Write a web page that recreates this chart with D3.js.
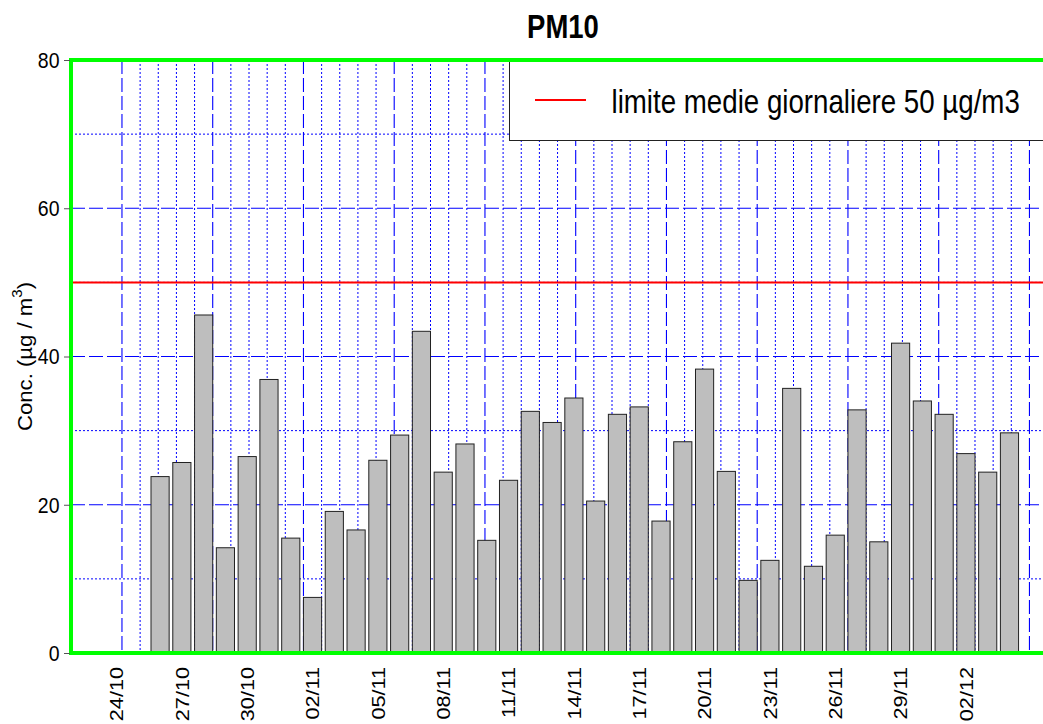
<!DOCTYPE html>
<html><head><meta charset="utf-8">
<script src="https://cdn.jsdelivr.net/npm/d3@7"></script>
<style>
body{margin:0;background:#fff;}
text{font-family:"Liberation Sans",Arial,Helvetica,sans-serif;fill:#000;}
</style>
</head><body>
<svg id="c" width="1043" height="724"></svg>
<script>
// ---- data ----
const dates = ["24/10","25/10","26/10","27/10","28/10","29/10","30/10","31/10",
  "01/11","02/11","03/11","04/11","05/11","06/11","07/11","08/11","09/11","10/11",
  "11/11","12/11","13/11","14/11","15/11","16/11","17/11","18/11","19/11","20/11",
  "21/11","22/11","23/11","24/11","25/11","26/11","27/11","28/11","29/11","30/11",
  "01/12","02/12","03/12","04/12"];
const values = [null,null,23.8,25.7,45.6,14.2,26.5,36.9,
  15.5,7.5,19.1,16.6,26.0,29.4,43.4,24.4,28.2,15.2,
  23.3,32.6,31.1,34.4,20.5,32.2,33.2,17.8,28.5,38.3,
  24.5,9.8,12.5,35.7,11.7,15.9,32.8,15.0,41.8,34.0,
  32.2,26.9,24.4,29.7];
const tickLabels = ["24/10","27/10","30/10","02/11","05/11","08/11","11/11",
  "14/11","17/11","20/11","23/11","26/11","29/11","02/12"];
const yTicks = [0,20,40,60,80];
const yGridMajor = [20,40,60];
const yGridMinor = [10,30,50,70];
const limitValue = 50;
const legendLabel = "limite medie giornaliere 50 µg/m3";
const chartTitle = "PM10";

// ---- layout ----
const svg = d3.select("#c");
const L = 71, R = 1055, T = 60, B = 653;
const barSpace = 0.2, barW = 1;
const n = dates.length;
const xMin = barSpace, xMax = barSpace + (barW + barSpace) * (n - 1) + barW;
const ext = (xMax - xMin) * 0.04;
const x = d3.scaleLinear().domain([xMin - ext, xMax + ext]).range([L, R]);
const y = d3.scaleLinear().domain([0, 80]).range([B, T]);
const pos = i => barSpace + i * (barW + barSpace);

svg.append("clipPath").attr("id","pc")
  .append("rect").attr("x",L).attr("y",T).attr("width",R-L).attr("height",B-T);

const plot = svg.append("g").attr("clip-path","url(#pc)");

// grid
const gxMajor = d3.range(1, 52, 5);
const gxMinor = d3.range(1, 52, 1).filter(v => (v - 1) % 5 !== 0);
plot.selectAll(".gxm").data(gxMinor).join("line")
  .attr("x1", d => x(d)).attr("x2", d => x(d)).attr("y1", T).attr("y2", B)
  .attr("stroke","#0000ff").attr("stroke-width",1).attr("stroke-dasharray","2,2");
plot.selectAll(".gyn").data(yGridMinor).join("line")
  .attr("x1", L).attr("x2", R).attr("y1", d => y(d)).attr("y2", d => y(d))
  .attr("stroke","#0000ff").attr("stroke-width",1).attr("stroke-dasharray","2,2");
plot.selectAll(".gxM").data(gxMajor).join("line")
  .attr("x1", d => x(d)).attr("x2", d => x(d)).attr("y1", T).attr("y2", B)
  .attr("stroke","#0000ff").attr("stroke-width",1.1).attr("stroke-dasharray","14,4");
plot.selectAll(".gyM").data(yGridMajor).join("line")
  .attr("x1", L).attr("x2", R).attr("y1", d => y(d)).attr("y2", d => y(d))
  .attr("stroke","#0000ff").attr("stroke-width",1.1).attr("stroke-dasharray","14,4");

// bars
const barData = values.map((v,i)=>({v,i})).filter(d => d.v !== null);
plot.selectAll(".bar").data(barData).join("rect")
  .attr("x", d => x(pos(d.i)))
  .attr("width", d => x(pos(d.i) + barW) - x(pos(d.i)))
  .attr("y", d => y(d.v))
  .attr("height", d => y(0) - y(d.v))
  .attr("fill","#bebebe").attr("stroke","#222").attr("stroke-width",1);

// limit line
plot.append("line").attr("x1",L).attr("x2",R)
  .attr("y1", y(limitValue)).attr("y2", y(limitValue))
  .attr("stroke","#ff0000").attr("stroke-width",2);

// legend
plot.append("rect").attr("x",509.5).attr("y",T-2).attr("width",R-509.5+5).attr("height",140.5-(T-2))
  .attr("fill","#fff").attr("stroke","#222").attr("stroke-width",1);
plot.append("line").attr("x1",535).attr("x2",586).attr("y1",100).attr("y2",100)
  .attr("stroke","#ff0000").attr("stroke-width",2);
svg.append("g").attr("transform","translate(611.5,113.3) scale(1,1.2)")
  .append("text").attr("font-size",27.7).text(legendLabel);

// border
svg.append("rect").attr("x",L).attr("y",T).attr("width",R-L).attr("height",B-T)
  .attr("fill","none").attr("stroke","#00ff00").attr("stroke-width",4);

// y axis
const ya = svg.append("g").attr("transform",`translate(${L-1},0)`)
  .call(d3.axisLeft(y).tickValues(yTicks).tickSize(6).tickPadding(0).tickFormat(d3.format("d")));
ya.select(".domain").remove();
ya.selectAll(".tick line").attr("stroke","#555");
ya.selectAll(".tick text").each(function(){
  const t = d3.select(this);
  t.attr("x",null).attr("dy",null).attr("font-size",19.5).attr("font-family",null)
   .attr("transform","translate(-10.5,7.4) scale(1,1.1)");
});

// x labels
const labelIdx = tickLabels.map(l => dates.indexOf(l));
svg.selectAll(".xl").data(labelIdx).join("g")
  .attr("transform", d => `translate(${x(pos(d) + barW/2)},667) scale(1,1.14)`)
  .append("text").attr("transform","rotate(-90)")
  .attr("text-anchor","end").attr("dy","0.36em").attr("font-size",19)
  .text(d => dates[d]);

// y title
const yt = svg.append("g").attr("transform",`translate(32,${(T+B)/2}) scale(1,1.08)`)
  .append("text").attr("transform","rotate(-90)").attr("text-anchor","middle").attr("font-size",20.5);
yt.append("tspan").text("Conc. (µg / m");
yt.append("tspan").attr("font-size",14).attr("dy","-0.75em").text("3");
yt.append("tspan").attr("dy","0.5em").text(")");

// title
svg.append("g").attr("transform",`translate(${(L+R)/2},38.3) scale(1,1.18)`)
  .append("text").attr("text-anchor","middle").attr("font-size",27.5).attr("font-weight","bold")
  .text(chartTitle);
</script>
</body></html>
